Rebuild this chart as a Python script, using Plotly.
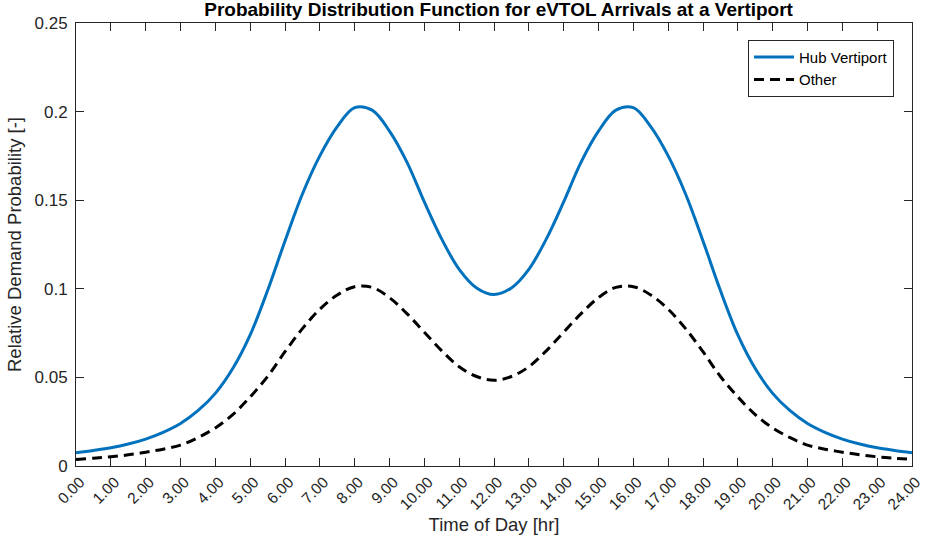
import plotly.graph_objects as go

# Hours (0 to 24 in half-hour steps)
hours = [i * 0.5 for i in range(49)]

# Values
hub_vertiport = [
    0.0075, 0.0088, 0.0103, 0.0124, 0.0152, 0.0190, 0.0240, 0.0312, 0.0410, 0.0550,
    0.0740, 0.0990, 0.1270, 0.1535, 0.1750, 0.1915, 0.2022, 0.2008, 0.1890, 0.1715,
    0.1490, 0.1280, 0.1110, 0.1005, 0.0968,
    0.1005, 0.1110, 0.1280, 0.1490, 0.1715, 0.1890, 0.2008, 0.2022, 0.1915, 0.1750,
    0.1535, 0.1270, 0.0990, 0.0740, 0.0550, 0.0410, 0.0312, 0.0240, 0.0190, 0.0152,
    0.0124, 0.0103, 0.0088, 0.0075,
]
other = [
    0.0037, 0.0044, 0.0052, 0.0063, 0.0078, 0.0095, 0.0118, 0.0160, 0.0215, 0.0290,
    0.0390, 0.0505, 0.0645, 0.0775, 0.0885, 0.0965, 0.1012, 0.1008, 0.0950, 0.0860,
    0.0755, 0.0650, 0.0560, 0.0505, 0.0484,
    0.0505, 0.0560, 0.0650, 0.0755, 0.0860, 0.0950, 0.1008, 0.1012, 0.0965, 0.0885,
    0.0775, 0.0645, 0.0505, 0.0390, 0.0290, 0.0215, 0.0160, 0.0118, 0.0095, 0.0078,
    0.0063, 0.0052, 0.0044, 0.0037,
]

x_tickvals = list(range(25))
x_ticktext = [f"{h}.00" for h in x_tickvals]
y_tickvals = [0, 0.05, 0.1, 0.15, 0.2, 0.25]
y_ticktext = ["0", "0.05", "0.1", "0.15", "0.2", "0.25"]

FONT = "Liberation Sans, Arial, Helvetica, sans-serif"
AX = "#262626"

fig = go.Figure()
fig.add_trace(go.Scatter(
    x=hours, y=hub_vertiport, mode="lines", name="Hub Vertiport",
    line=dict(color="#0072BD", width=3, shape="spline", smoothing=1.0),
))
fig.add_trace(go.Scatter(
    x=hours, y=other, mode="lines", name="Other",
    line=dict(color="#000000", width=3, dash="10px,6px", shape="spline", smoothing=1.0),
))

axis_common = dict(
    showgrid=False, zeroline=False, showline=True, linecolor=AX, linewidth=1,
    mirror="allticks", ticks="inside", ticklen=8, tickcolor=AX, tickwidth=1,
    ticklabeloverflow="allow", automargin=False,
)

fig.update_layout(
    width=925, height=554,
    margin=dict(l=76, r=13, t=23, b=88),
    paper_bgcolor="white", plot_bgcolor="white",
    font=dict(family=FONT, color=AX),
    title=dict(
        text="<b>Probability Distribution Function for eVTOL Arrivals at a Vertiport</b>",
        font=dict(family=FONT, size=19, color="#000000"),
        x=0.539, xanchor="center", y=0.983, yanchor="middle",
    ),
    xaxis=dict(
        range=[0, 24], tickmode="array", tickvals=x_tickvals, ticktext=x_ticktext,
        tickangle=-45, ticklabelshift=4,
        tickfont=dict(family=FONT, size=15.5, color=AX),
        title=dict(text="Time of Day [hr]", font=dict(family=FONT, size=18.5, color=AX), standoff=6),
        **axis_common,
    ),
    yaxis=dict(
        range=[0, 0.25], tickmode="array", tickvals=y_tickvals, ticktext=y_ticktext,
        tickfont=dict(family=FONT, size=17, color=AX), ticklabelstandoff=4,
        title=dict(text="Relative Demand Probability [-]", font=dict(family=FONT, size=18.5, color=AX), standoff=8),
        **axis_common,
    ),
    legend=dict(
        x=0.9785, y=0.962, xanchor="right", yanchor="top",
        bgcolor="white", bordercolor="#262626", borderwidth=1,
        font=dict(family=FONT, size=15, color="#000000"),
        tracegroupgap=0, itemwidth=40,
    ),
    showlegend=True,
)

fig.write_html("out.html")
